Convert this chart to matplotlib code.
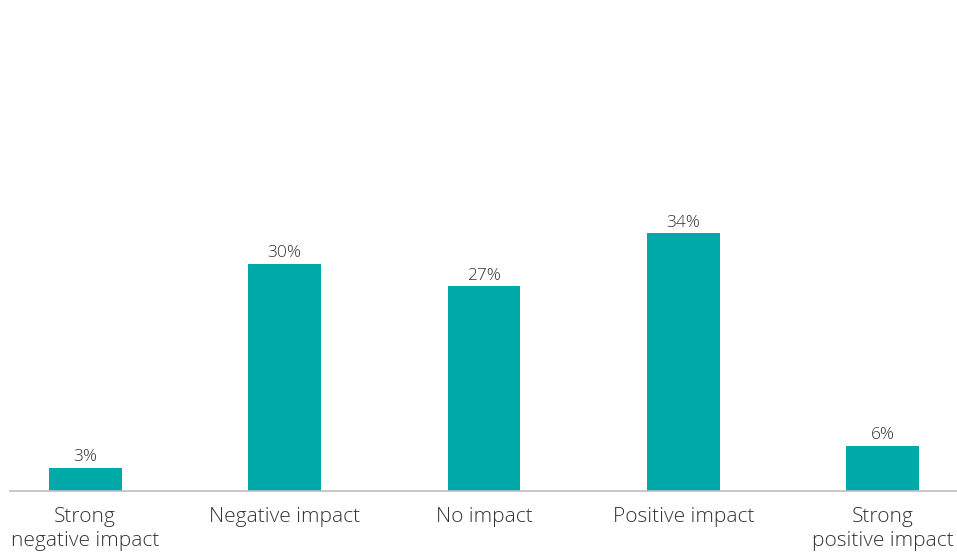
import matplotlib
matplotlib.use("Agg")
import matplotlib.pyplot as plt

categories = ["Strong\nnegative impact", "Negative impact", "No impact", "Positive impact", "Strong\npositive impact"]
values = [3, 30, 27, 34, 6]
value_labels = ["3%", "30%", "27%", "34%", "6%"]

plt.rcParams['font.family'] = ['Open Sans', 'DejaVu Sans']

W, H = 957, 552
fig = plt.figure(figsize=(W / 100, H / 100), dpi=100)
left, right = 10, 958
bottom_px, top_px = 491, 0
ax = fig.add_axes([left / W, 1 - bottom_px / H, (right - left) / W, (bottom_px - top_px) / H])

bar_w = 73 / 199.5
x = list(range(len(categories)))
bars = ax.bar(x, values, width=bar_w, color="#00AAA8")
for xi, v, lab in zip(x, values, value_labels):
    ax.annotate(lab, (xi, v), xytext=(0, 2), textcoords="offset points",
                ha="center", va="bottom", fontsize=12.5, color="#333333", fontweight="light")

ax.set_xlim(-0.376, 4.376)
ax.set_ylim(0, 491 / 7.58)
ax.set_xticks(x)
ax.set_xticklabels(categories, fontsize=15, color="#333333", linespacing=1.28, fontweight="light")
ax.tick_params(axis="x", length=0, pad=11.5)
ax.set_yticks([])
for s in ["top", "right", "left"]:
    ax.spines[s].set_visible(False)
ax.spines["bottom"].set_color("#bfbfbf")
ax.spines["bottom"].set_linewidth(1.2)

fig.savefig("out.png", dpi=100)
